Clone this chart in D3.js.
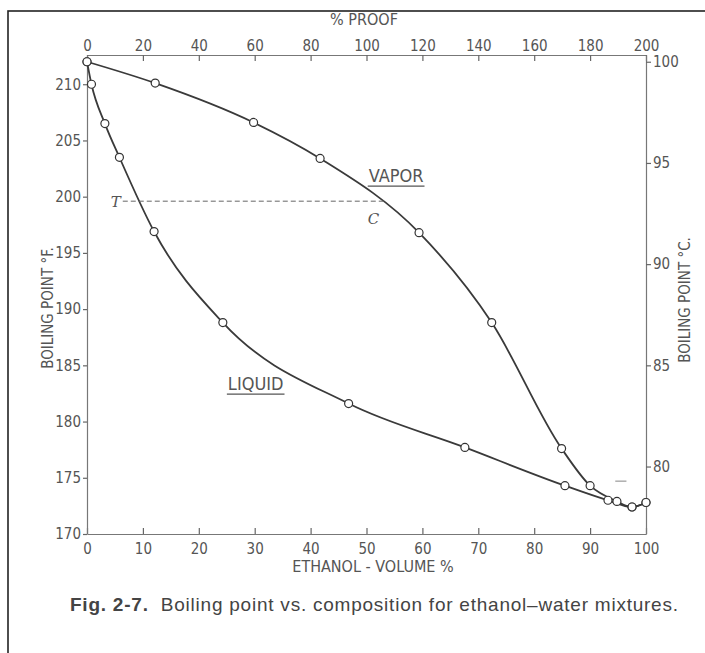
<!DOCTYPE html>
<html>
<head>
<meta charset="utf-8">
<script src="https://cdn.jsdelivr.net/npm/d3@7"></script>
<style>
  body { margin: 0; background: #fff; }
  text { font-family: "DejaVu Sans Condensed", "Liberation Sans Narrow", sans-serif; fill: #555; }
  .caption { font-family: "Liberation Sans", Arial, sans-serif; fill: #444; }
</style>
</head>
<body>
<script>
const WIDTH = 705;
const HEIGHT = 653;

// ethanol volume % and boiling point in deg F
const liquidX = [0, 0.8, 3.2, 5.8, 12.0, 24.3, 46.8, 67.6, 85.5, 93.2, 97.5, 100];
const liquidY = [212, 210, 206.5, 203.5, 196.9, 188.8, 181.6, 177.7, 174.3, 173.0, 172.4, 172.8];
const vaporX = [0, 12.2, 29.8, 41.7, 59.4, 72.4, 84.9, 90, 94.8, 97.5, 100];
const vaporY = [212, 210.1, 206.6, 203.4, 196.8, 188.8, 177.6, 174.3, 172.9, 172.4, 172.8];

// tie line T - C
const tieX = [6.4, 53.2];
const tieY = 199.6;

const volTicks = [0, 10, 20, 30, 40, 50, 60, 70, 80, 90, 100];
const proofTicks = [0, 20, 40, 60, 80, 100, 120, 140, 160, 180, 200];
const fTicks = [170, 175, 180, 185, 190, 195, 200, 205, 210];
const cTicks = [80, 85, 90, 95, 100];

const plotL = 87, plotR = 646, plotT = 55, plotB = 534;
const fMax = 212.6;
const toC = f => (f - 32) * 5 / 9;

var svg = d3.select("body").append("svg")
    .attr("width", WIDTH)
    .attr("height", HEIGHT);

svg.append("rect")
    .attr("width", WIDTH)
    .attr("height", HEIGHT)
    .attr("fill", "#fff");

// outer frame (runs off the right and bottom)
svg.append("rect")
    .attr("x", 8).attr("y", 11)
    .attr("width", 720).attr("height", 700)
    .attr("fill", "none")
    .attr("stroke", "#222")
    .attr("stroke-width", 1.6);

var x = d3.scaleLinear().domain([0, 100]).range([plotL, plotR]);
var xProof = d3.scaleLinear().domain([0, 200]).range([plotL, plotR]);
var y = d3.scaleLinear().domain([170, fMax]).range([plotB, plotT]);
var yC = d3.scaleLinear().domain([toC(170), toC(fMax)]).range([plotB, plotT]);

function styleAxis(g) {
    g.select(".domain").attr("stroke", "#777").attr("stroke-width", 1.2);
    g.selectAll(".tick line").attr("stroke", "#666").attr("stroke-width", 1.2);
    g.selectAll(".tick text").attr("fill", "#555")
        .style("font-family", '"DejaVu Sans Condensed", sans-serif')
        .style("font-size", "15px");
}

// bottom axis, ticks pointing in
svg.append("g")
    .attr("transform", "translate(0," + plotB + ")")
    .call(d3.axisBottom(x).tickValues(volTicks).tickSizeInner(-6).tickSizeOuter(0).tickPadding(9))
    .call(styleAxis);

// top axis, % proof
svg.append("g")
    .attr("transform", "translate(0," + plotT + ")")
    .call(d3.axisTop(xProof).tickValues(proofTicks).tickSizeInner(-6).tickSizeOuter(0).tickPadding(4))
    .call(styleAxis);

// left axis, deg F
svg.append("g")
    .attr("transform", "translate(" + plotL + ",0)")
    .call(d3.axisLeft(y).tickValues(fTicks).tickSizeInner(4).tickSizeOuter(0).tickPadding(2))
    .call(styleAxis);

// right axis, deg C
svg.append("g")
    .attr("transform", "translate(" + plotR + ",0)")
    .call(d3.axisRight(yC).tickValues(cTicks).tickSizeInner(5).tickSizeOuter(0).tickPadding(2))
    .call(styleAxis);

// axis titles
svg.append("text")
    .attr("x", 364).attr("y", 25)
    .attr("text-anchor", "middle")
    .style("font-size", "16px")
    .text("% PROOF");

svg.append("text")
    .attr("x", 373).attr("y", 572)
    .attr("text-anchor", "middle")
    .style("font-size", "16px")
    .text("ETHANOL - VOLUME %");

svg.append("text")
    .attr("transform", "translate(53,308) rotate(-90)")
    .attr("text-anchor", "middle")
    .style("font-size", "15px")
    .text("BOILING POINT °F.");

svg.append("text")
    .attr("transform", "translate(690,300) rotate(-90)")
    .attr("text-anchor", "middle")
    .style("font-size", "15px")
    .text("BOILING POINT °C.");

// curves
var line = d3.line()
    .x(d => x(d[0]))
    .y(d => y(d[1]))
    .curve(d3.curveMonotoneX);

var liquid = liquidX.map((v, i) => [v, liquidY[i]]);
var vapor = vaporX.map((v, i) => [v, vaporY[i]]);

[liquid, vapor].forEach(function (pts) {
    svg.append("path")
        .datum(pts)
        .attr("d", line)
        .attr("fill", "none")
        .attr("stroke", "#3a3a3a")
        .attr("stroke-width", 1.8);
});

// tie line
svg.append("line")
    .attr("x1", x(tieX[0])).attr("x2", x(tieX[1]))
    .attr("y1", y(tieY)).attr("y2", y(tieY))
    .attr("stroke", "#666")
    .attr("stroke-width", 1)
    .attr("stroke-dasharray", "5,3");

svg.append("text")
    .attr("x", x(tieX[0]) - 7).attr("y", y(tieY) + 6)
    .attr("text-anchor", "middle")
    .style("font-family", '"DejaVu Serif", serif')
    .style("font-style", "italic")
    .style("font-size", "15px")
    .text("T");

svg.append("text")
    .attr("x", x(tieX[1]) - 11).attr("y", y(tieY) + 23)
    .attr("text-anchor", "middle")
    .style("font-family", '"DejaVu Serif", serif')
    .style("font-style", "italic")
    .style("font-size", "15px")
    .text("C");

// points
[liquid, vapor].forEach(function (pts) {
    svg.selectAll(null)
        .data(pts)
        .enter().append("circle")
        .attr("cx", d => x(d[0]))
        .attr("cy", d => y(d[1]))
        .attr("r", 4)
        .attr("fill", "#fff")
        .attr("stroke", "#333")
        .attr("stroke-width", 1.2);
});

// curve labels, underlined
function curveLabel(txt, vx, vy) {
    var t = svg.append("text")
        .attr("x", x(vx)).attr("y", y(vy))
        .style("font-size", "18px")
        .text(txt);
    var w = t.node().getComputedTextLength();
    svg.append("line")
        .attr("x1", x(vx) - 1).attr("x2", x(vx) + w + 1)
        .attr("y1", y(vy) + 4).attr("y2", y(vy) + 4)
        .attr("stroke", "#555")
        .attr("stroke-width", 1.3);
}
curveLabel("VAPOR", 50.4, 201.3);
curveLabel("LIQUID", 25.2, 182.8);

// stray mark near the right axis
svg.append("line")
    .attr("x1", x(94.5)).attr("x2", x(96.5))
    .attr("y1", y(174.7)).attr("y2", y(174.7))
    .attr("stroke", "#999").attr("stroke-width", 1.2);

// caption
var cap = svg.append("text")
    .attr("class", "caption")
    .attr("x", 70).attr("y", 611)
    .attr("textLength", 608)
    .attr("lengthAdjust", "spacing")
    .style("font-size", "19px");
cap.append("tspan").style("font-weight", "bold").text("Fig. 2-7.");
cap.append("tspan").text("\u00a0 Boiling point vs. composition for ethanol\u2013water mixtures.");
</script>
</body>
</html>
